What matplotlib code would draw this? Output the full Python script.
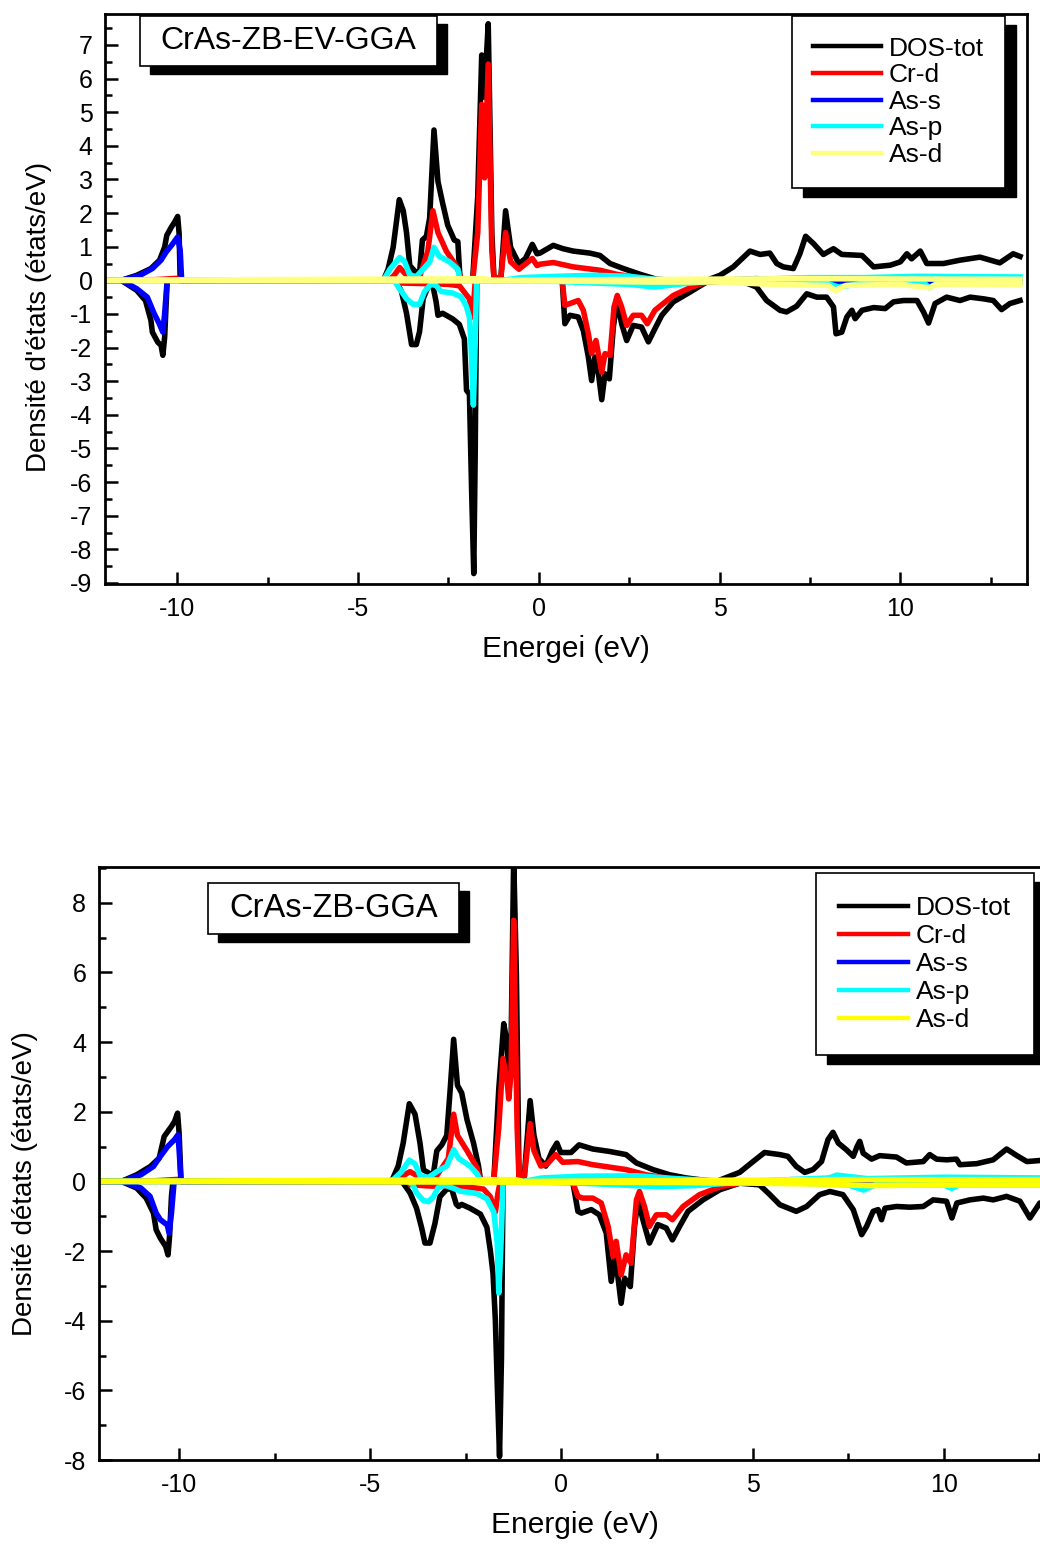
import numpy as np
import matplotlib
matplotlib.use('Agg')
import matplotlib.pyplot as plt
from matplotlib.patches import Rectangle
from matplotlib.lines import Line2D
from matplotlib.ticker import MultipleLocator
from matplotlib.transforms import IdentityTransform

plt.rcParams['font.family'] = ['Liberation Sans', 'DejaVu Sans']
plt.rcParams['axes.unicode_minus'] = False

# ---------------- data : (energy eV, DOS states/eV) ----------------
labels = ['DOS-tot', 'Cr-d', 'As-s', 'As-p', 'As-d']

# ---- top panel : CrAs-ZB-EV-GGA ----
top_tot_up = [(-12.0, 0), (-11.55, 0), (-11.12, 0.15), (-10.73, 0.35), (-10.49, 0.60), (-10.35, 0.99),
              (-10.29, 1.34), (-10.16, 1.59), (-10.07, 1.74), (-9.99, 1.90), (-9.95, 1.39), (-9.92, 0),
              (-4.30, 0), (-4.17, 0.33), (-4.03, 0.98), (-3.86, 2.40), (-3.75, 2.07), (-3.66, 1.42),
              (-3.57, 0.44), (-3.43, 0.27), (-3.30, 0.22), (-3.22, 1.20), (-3.11, 1.31), (-3.02, 1.85),
              (-2.90, 4.47), (-2.79, 2.94), (-2.66, 2.29), (-2.52, 1.64), (-2.34, 1.20), (-2.24, 1.15),
              (-2.18, 0.05), (-1.83, 0.02), (-1.69, 2.50), (-1.58, 6.70), (-1.51, 5.45), (-1.40, 7.63),
              (-1.30, 1.40), (-1.24, 0.05), (-1.05, 0.05), (-0.92, 2.07), (-0.78, 0.98), (-0.55, 0.49),
              (-0.37, 0.65), (-0.18, 1.07), (-0.05, 0.79), (0.03, 0.81), (0.40, 1.04), (0.67, 0.94),
              (0.95, 0.87), (1.41, 0.81), (1.69, 0.74), (1.97, 0.50), (2.34, 0.35), (2.80, 0.18),
              (3.26, 0.03), (3.72, 0), (4.64, 0), (5.01, 0.15), (5.38, 0.40), (5.84, 0.87), (6.12, 0.77),
              (6.39, 0.81), (6.58, 0.50), (6.76, 0.40), (7.04, 0.35), (7.22, 0.79), (7.38, 1.31),
              (7.60, 1.09), (7.87, 0.77), (8.15, 0.94), (8.38, 0.77), (8.94, 0.74), (9.26, 0.40),
              (9.72, 0.45), (10.0, 0.55), (10.18, 0.79), (10.31, 0.64), (10.55, 0.87), (10.73, 0.50),
              (11.19, 0.50), (11.65, 0.60), (12.20, 0.69), (12.75, 0.52), (13.12, 0.79), (13.31, 0.71)]
top_tot_dn = [(-12.0, 0), (-11.55, 0), (-11.12, -0.30), (-10.88, -0.60), (-10.73, -1.19), (-10.69, -1.54),
              (-10.54, -1.84), (-10.45, -1.93), (-10.40, -2.23), (-10.35, -1.69), (-10.28, 0),
              (-4.00, 0), (-3.94, -0.05), (-3.80, -0.33), (-3.66, -0.98), (-3.52, -1.91), (-3.39, -1.91),
              (-3.30, -1.53), (-3.20, -0.55), (-3.07, -0.20), (-2.93, -0.16), (-2.84, -0.65), (-2.79, -1.04),
              (-2.66, -0.98), (-2.38, -1.15), (-2.20, -1.31), (-2.06, -1.74), (-2.00, -3.27), (-1.92, -3.38),
              (-1.86, -6.22), (-1.80, -8.72), (-1.76, -5.13), (-1.72, -0.11), (-1.68, 0), (0.60, 0),
              (0.65, -0.05), (0.72, -1.29), (0.86, -1.04), (1.09, -1.09), (1.23, -1.49), (1.37, -2.28),
              (1.46, -2.98), (1.55, -2.28), (1.65, -2.78), (1.74, -3.55), (1.83, -2.78), (1.95, -2.93),
              (2.06, -1.39), (2.17, -0.60), (2.29, -1.29), (2.43, -1.79), (2.61, -1.34), (2.84, -1.39),
              (3.03, -1.83), (3.21, -1.44), (3.40, -1.04), (3.72, -0.64), (4.18, -0.35), (4.64, -0.05),
              (5.56, 0), (6.02, -0.20), (6.30, -0.60), (6.67, -0.89), (6.85, -0.94), (7.13, -0.77),
              (7.41, -0.40), (7.69, -0.50), (7.96, -0.50), (8.15, -0.79), (8.22, -1.59), (8.38, -1.54),
              (8.52, -1.09), (8.66, -0.89), (8.75, -1.14), (8.94, -0.89), (9.26, -0.81), (9.58, -0.84),
              (9.81, -0.64), (10.09, -0.60), (10.46, -0.60), (10.64, -0.94), (10.78, -1.27), (10.96, -0.69),
              (11.28, -0.50), (11.65, -0.60), (11.93, -0.50), (12.30, -0.55), (12.57, -0.60), (12.80, -0.87),
              (13.03, -0.69), (13.31, -0.60)]
top_crd_up = [(-12.0, 0), (-10.6, 0.02), (-10.0, 0.06), (-9.92, 0), (-4.15, 0), (-4.00, 0.15), (-3.85, 0.38),
              (-3.70, 0.20), (-3.57, 0.10), (-3.30, 0.10), (-3.07, 0.87), (-2.93, 2.07), (-2.79, 1.42),
              (-2.56, 0.87), (-2.29, 0.44), (-2.20, 0.22), (-2.15, 0.02), (-1.83, 0), (-1.69, 1.42),
              (-1.58, 5.23), (-1.50, 3.05), (-1.40, 6.43), (-1.30, 0.87), (-1.24, 0.05), (-1.05, 0.10),
              (-0.92, 1.42), (-0.78, 0.55), (-0.55, 0.33), (-0.18, 0.65), (-0.05, 0.44), (0.03, 0.48),
              (0.40, 0.53), (0.95, 0.40), (1.69, 0.30), (2.15, 0.18), (2.80, 0.07), (3.26, 0), (13.31, 0)]
top_crd_dn = [(-12.0, 0), (-4.00, 0), (-3.80, -0.08), (-3.00, -0.10), (-2.50, -0.12), (-2.20, -0.16),
              (-1.92, -0.55), (-1.83, -1.09), (-1.76, -0.05), (-1.70, 0), (0.60, 0), (0.65, -0.05),
              (0.72, -0.74), (0.86, -0.69), (1.09, -0.60), (1.23, -0.89), (1.37, -1.59), (1.46, -2.18),
              (1.58, -1.79), (1.74, -2.73), (1.83, -2.18), (1.97, -2.23), (2.08, -0.79), (2.17, -0.45),
              (2.29, -0.79), (2.43, -1.34), (2.61, -1.04), (2.84, -1.04), (3.00, -1.29), (3.21, -0.89),
              (3.72, -0.45), (4.18, -0.22), (4.64, -0.05), (5.00, 0), (13.31, 0)]
top_ass_up = [(-12.0, 0), (-11.55, 0), (-11.03, 0.15), (-10.69, 0.35), (-10.45, 0.60), (-10.31, 0.84),
              (-10.16, 1.04), (-9.99, 1.29), (-9.92, 0.89), (-9.88, 0), (5.0, 0), (6.0, 0.05), (7.0, 0.02),
              (13.31, 0.02)]
top_ass_dn = [(-12.0, 0), (-11.55, 0), (-11.12, -0.25), (-10.83, -0.50), (-10.64, -0.99), (-10.50, -1.29),
              (-10.40, -1.54), (-10.35, -0.99), (-10.28, 0), (5.0, 0), (8.0, -0.05), (9.0, -0.08),
              (10.5, -0.10), (11.0, -0.06), (13.31, -0.05)]
top_asp_up = [(-12.0, 0), (-4.30, 0), (-4.12, 0.33), (-3.85, 0.68), (-3.71, 0.55), (-3.57, 0.16),
              (-3.39, 0.11), (-3.20, 0.33), (-3.02, 0.55), (-2.90, 0.98), (-2.75, 0.71), (-2.47, 0.55),
              (-2.24, 0.33), (-2.18, 0), (-1.0, 0), (-0.5, 0.08), (0.5, 0.12), (1.5, 0.15), (2.5, 0.12),
              (3.3, 0.02), (5.0, 0), (7.5, 0.08), (9.0, 0.08), (10.5, 0.12), (13.31, 0.10)]
top_asp_dn = [(-12.0, 0), (-4.00, 0), (-3.94, -0.11), (-3.66, -0.55), (-3.48, -0.71), (-3.30, -0.71),
              (-3.16, -0.33), (-2.98, -0.11), (-2.84, -0.16), (-2.70, -0.33), (-2.38, -0.38), (-2.15, -0.49),
              (-2.01, -0.76), (-1.92, -1.09), (-1.88, -1.85), (-1.81, -3.71), (-1.76, -1.85), (-1.72, -0.05),
              (-1.68, 0), (0.5, -0.03), (1.5, -0.08), (2.5, -0.12), (3.2, -0.20), (4.0, -0.10), (5.0, 0),
              (8.0, -0.10), (8.3, -0.20), (9.0, -0.08), (10.7, -0.12), (10.8, -0.22), (11.0, -0.10),
              (13.31, -0.08)]
top_asd_up = [(-12.0, 0), (-1.5, 0.05), (-1.3, 0), (7.3, 0.05), (13.31, 0.03)]
top_asd_dn = [(-12.0, 0), (0.5, -0.02), (3.0, -0.05), (5.0, -0.05), (6.5, -0.12), (8.0, -0.15),
              (8.2, -0.30), (8.5, -0.15), (10.0, -0.12), (10.8, -0.22), (11.0, -0.12), (13.31, -0.12)]

# ---- bottom panel : CrAs-ZB-GGA ----
bot_tot_up = [(-12.1, 0), (-11.51, 0), (-11.11, 0.19), (-10.75, 0.43), (-10.52, 0.67), (-10.39, 1.29),
              (-10.20, 1.58), (-10.12, 1.72), (-10.04, 1.96), (-10.00, 1.39), (-9.95, 0), (-4.45, 0),
              (-4.40, 0.11), (-4.27, 0.44), (-4.14, 1.10), (-3.98, 2.23), (-3.83, 1.93), (-3.70, 1.10),
              (-3.61, 0.33), (-3.44, 0.22), (-3.35, 0.22), (-3.26, 0.88), (-3.13, 1.05), (-3.00, 1.32),
              (-2.91, 2.65), (-2.82, 4.08), (-2.72, 2.76), (-2.61, 2.54), (-2.47, 1.77), (-2.30, 1.10),
              (-2.17, 0.44), (-2.12, 0.05), (-1.77, 0.02), (-1.64, 2.65), (-1.51, 4.53), (-1.42, 3.97),
              (-1.38, 2.65), (-1.32, 3.75), (-1.25, 9.30), (-1.18, 5.96), (-1.11, 0.05), (-0.98, 0.05),
              (-0.82, 2.32), (-0.72, 1.32), (-0.59, 0.66), (-0.41, 0.44), (-0.24, 0.88), (-0.12, 1.10),
              (-0.02, 0.83), (0.25, 0.83), (0.46, 1.05), (0.82, 0.93), (1.26, 0.86), (1.69, 0.77),
              (1.96, 0.53), (2.39, 0.34), (2.83, 0.19), (3.26, 0.10), (3.61, 0.05), (4.05, 0), (4.66, 0.26),
              (5.01, 0.57), (5.31, 0.83), (5.71, 0.77), (5.92, 0.72), (6.14, 0.43), (6.36, 0.26),
              (6.58, 0.34), (6.80, 0.57), (6.97, 1.20), (7.10, 1.41), (7.24, 1.10), (7.45, 0.91),
              (7.63, 0.72), (7.73, 1.00), (7.80, 1.15), (7.89, 0.81), (8.11, 0.64), (8.32, 0.74),
              (8.76, 0.70), (9.02, 0.53), (9.46, 0.57), (9.63, 0.77), (9.81, 0.64), (10.07, 0.62),
              (10.33, 0.64), (10.42, 0.48), (10.86, 0.51), (11.29, 0.62), (11.64, 0.93), (11.91, 0.74),
              (12.17, 0.57), (12.51, 0.60), (13.0, 0.60)]
bot_tot_dn = [(-12.1, 0), (-11.51, 0), (-11.11, -0.19), (-10.86, -0.48), (-10.67, -0.91), (-10.60, -1.39),
              (-10.49, -1.63), (-10.35, -1.87), (-10.29, -2.11), (-10.25, -1.58), (-10.20, -0.43),
              (-10.16, 0), (-4.20, 0), (-4.14, -0.05), (-3.96, -0.33), (-3.79, -0.77), (-3.66, -1.32),
              (-3.57, -1.77), (-3.44, -1.77), (-3.31, -1.21), (-3.18, -0.44), (-3.00, -0.22), (-2.87, -0.22),
              (-2.75, -0.66), (-2.69, -0.72), (-2.61, -0.66), (-2.39, -0.77), (-2.12, -0.94), (-1.95, -1.32),
              (-1.86, -1.99), (-1.79, -2.65), (-1.73, -3.97), (-1.67, -6.18), (-1.62, -7.90), (-1.57, -5.08),
              (-1.53, -0.11), (-1.50, 0), (0.20, 0), (0.30, -0.05), (0.43, -0.86), (0.52, -0.91),
              (0.78, -0.81), (0.99, -0.96), (1.17, -1.48), (1.30, -2.87), (1.41, -2.15), (1.56, -3.50),
              (1.65, -2.78), (1.80, -3.02), (1.91, -1.29), (2.00, -0.53), (2.13, -1.10), (2.30, -1.77),
              (2.52, -1.24), (2.74, -1.34), (2.90, -1.68), (3.09, -1.29), (3.31, -0.86), (3.70, -0.53),
              (4.14, -0.24), (4.66, -0.05), (5.18, -0.10), (5.45, -0.38), (5.71, -0.67), (6.14, -0.86),
              (6.41, -0.72), (6.75, -0.38), (7.02, -0.29), (7.36, -0.38), (7.63, -0.81), (7.85, -1.53),
              (7.98, -1.29), (8.15, -0.86), (8.28, -0.81), (8.37, -1.10), (8.46, -0.77), (8.76, -0.72),
              (9.11, -0.74), (9.46, -0.72), (9.72, -0.53), (10.07, -0.57), (10.21, -1.05), (10.34, -0.62),
              (10.68, -0.53), (11.03, -0.48), (11.29, -0.53), (11.64, -0.43), (11.99, -0.57), (12.25, -1.05),
              (12.51, -0.62), (13.0, -0.60)]
bot_crd_up = [(-12.1, 0), (-10.6, 0.02), (-10.0, 0.06), (-9.95, 0), (-4.30, 0), (-4.23, 0.11), (-3.96, 0.28),
              (-3.79, 0.17), (-3.61, 0.11), (-3.26, 0.17), (-2.96, 0.66), (-2.82, 1.93), (-2.72, 1.32),
              (-2.47, 0.88), (-2.21, 0.39), (-2.12, 0.05), (-1.77, 0.05), (-1.64, 1.55), (-1.53, 3.53),
              (-1.42, 2.87), (-1.38, 2.37), (-1.32, 3.09), (-1.25, 7.50), (-1.16, 1.55), (-1.11, 0.05),
              (-0.98, 0.05), (-0.82, 1.66), (-0.72, 0.88), (-0.54, 0.44), (-0.37, 0.50), (-0.15, 0.77),
              (0.03, 0.55), (0.43, 0.57), (0.82, 0.48), (1.69, 0.34), (2.21, 0.19), (3.00, 0.05),
              (3.44, 0), (13.0, 0)]
bot_crd_dn = [(-12.1, 0), (-4.00, 0), (-3.96, -0.09), (-3.50, -0.13), (-2.39, -0.17), (-2.04, -0.22),
              (-1.86, -0.44), (-1.73, -0.88), (-1.66, -0.33), (-1.60, 0), (0.20, 0), (0.30, -0.05),
              (0.43, -0.43), (0.56, -0.48), (0.82, -0.48), (1.04, -0.62), (1.22, -1.29), (1.35, -2.15),
              (1.43, -1.72), (1.56, -2.68), (1.69, -2.11), (1.82, -2.35), (1.96, -0.53), (2.04, -0.29),
              (2.17, -0.72), (2.30, -1.29), (2.48, -0.96), (2.74, -0.96), (2.90, -1.10), (3.18, -0.72),
              (3.61, -0.38), (4.14, -0.16), (4.66, -0.05), (5.00, 0), (13.0, 0)]
bot_ass_up = [(-12.1, 0), (-11.51, 0), (-11.00, 0.19), (-10.67, 0.43), (-10.49, 0.72), (-10.30, 1.00),
              (-10.12, 1.20), (-10.03, 1.34), (-10.00, 0.91), (-9.95, 0), (5.0, 0), (6.0, 0.05), (13.0, 0.03)]
bot_ass_dn = [(-12.1, 0), (-11.51, 0), (-11.00, -0.19), (-10.76, -0.43), (-10.60, -0.91), (-10.49, -1.10),
              (-10.31, -1.25), (-10.26, -1.49), (-10.20, -0.91), (-10.13, 0), (5.0, 0), (7.5, -0.05),
              (8.0, -0.10), (10.0, -0.08), (13.0, -0.08)]
bot_asp_up = [(-12.1, 0), (-4.45, 0), (-4.18, 0.28), (-3.98, 0.61), (-3.83, 0.50), (-3.70, 0.17),
              (-3.48, 0.11), (-3.26, 0.28), (-3.00, 0.44), (-2.82, 0.91), (-2.69, 0.66), (-2.39, 0.44),
              (-2.21, 0.22), (-2.12, 0.02), (-1.0, 0), (-0.5, 0.10), (0.5, 0.15), (2.0, 0.16), (3.0, 0.08),
              (4.0, 0.02), (5.0, 0), (7.0, 0.10), (7.2, 0.18), (8.0, 0.08), (10.0, 0.12), (12.5, 0.10),
              (13.0, 0.10)]
bot_asp_dn = [(-12.1, 0), (-4.00, 0), (-3.88, -0.11), (-3.79, -0.33), (-3.61, -0.55), (-3.48, -0.58),
              (-3.35, -0.44), (-3.22, -0.17), (-3.04, -0.11), (-2.82, -0.20), (-2.65, -0.28), (-2.21, -0.35),
              (-1.95, -0.50), (-1.77, -0.88), (-1.68, -1.77), (-1.64, -3.20), (-1.58, -1.77), (-1.53, -0.05),
              (-1.50, 0), (0.5, -0.05), (1.5, -0.10), (2.5, -0.15), (3.5, -0.12), (5.0, 0), (7.5, -0.10),
              (7.9, -0.25), (8.2, -0.10), (10.0, -0.10), (10.2, -0.20), (10.4, -0.10), (12.3, -0.10),
              (13.0, -0.10)]
bot_asd_up = [(-12.1, 0), (-1.4, 0.05), (-1.2, 0.05), (-1.0, 0), (7.0, 0.05), (13.0, 0.05)]
bot_asd_dn = [(-12.1, 0), (3.0, -0.03), (5.0, -0.05), (7.0, -0.08), (8.0, -0.12), (10.0, -0.10), (13.0, -0.10)]

top_curves = [(top_tot_up, top_tot_dn), (top_crd_up, top_crd_dn), (top_ass_up, top_ass_dn),
              (top_asp_up, top_asp_dn), (top_asd_up, top_asd_dn)]
bot_curves = [(bot_tot_up, bot_tot_dn), (bot_crd_up, bot_crd_dn), (bot_ass_up, bot_ass_dn),
              (bot_asp_up, bot_asp_dn), (bot_asd_up, bot_asd_dn)]
top_colors = ['#000000', '#ff0000', '#0000ff', '#00ffff', '#ffff80']
bot_colors = ['#000000', '#ff0000', '#0000ff', '#00ffff', '#ffff00']

# ---------------- figure ----------------
W, H = 1040, 1544
fig = plt.figure(figsize=(W / 100, H / 100), dpi=100)


def px_axes(x0, y0, x1, y1):
    return fig.add_axes([x0 / W, 1 - y1 / H, (x1 - x0) / W, (y1 - y0) / H])


def fig_rect(ax, x0, y0, x1, y1, z, **kw):
    r = Rectangle((x0 / W, 1 - y1 / H), (x1 - x0) / W, (y1 - y0) / H,
                  transform=fig.transFigure, clip_on=False, zorder=z, **kw)
    ax.add_patch(r)


def panel(ax, curves, colors, xlim, ylim, ymaj, ymin_, ylab, xlab, ylab_xy, xlab_xy,
          title, tsize, tbox, leg_xy, leg_space, leg_pad):
    for (up, dn), c in zip(curves, colors):
        for s in (up, dn):
            a = np.array(s, float)
            ax.plot(a[:, 0], a[:, 1], color=c, lw=4.0, solid_joinstyle='round')
    ax.set_xlim(*xlim)
    ax.set_ylim(*ylim)
    ax.xaxis.set_major_locator(MultipleLocator(5))
    ax.xaxis.set_minor_locator(MultipleLocator(2.5))
    ax.yaxis.set_major_locator(MultipleLocator(ymaj))
    ax.yaxis.set_minor_locator(MultipleLocator(ymin_))
    ax.tick_params(which='both', direction='in', labelsize=18, width=1.8, top=False, right=False)
    ax.tick_params(which='major', length=9, pad=9)
    ax.tick_params(which='minor', length=5)
    for sp in ax.spines.values():
        sp.set_linewidth(2)
    ax.set_xlabel(xlab, fontsize=21.5)
    ax.set_ylabel(ylab, fontsize=20)
    ax.yaxis.set_label_coords(*ylab_xy)
    ax.xaxis.set_label_coords(*xlab_xy)
    # title box with shadow
    bx0, by0, bx1, by1 = tbox
    fig_rect(ax, bx0 + 10, by0 + 8, bx1 + 10, by1 + 8, 6, facecolor='black', edgecolor='black')
    fig_rect(ax, bx0, by0, bx1, by1, 7, facecolor='white', edgecolor='black', linewidth=1.2)
    ax.text((bx0 + bx1) / 2 / W, 1 - (by0 + by1) / 2 / H, title, transform=fig.transFigure,
            ha='center', va='center', fontsize=tsize, zorder=8)
    handles = [Line2D([], [], color=c, lw=3.2) for c in colors]
    leg = ax.legend(handles, labels, loc='upper left',
                    bbox_to_anchor=(leg_xy[0] / W, 1 - leg_xy[1] / H), bbox_transform=fig.transFigure,
                    borderaxespad=0, fontsize=19, frameon=True, fancybox=False, edgecolor='black',
                    framealpha=1, handlelength=2.6, handletextpad=0.3, labelspacing=leg_space,
                    borderpad=leg_pad)
    leg.get_frame().set_linewidth(1.2)
    leg.set_zorder(10)
    return leg


ax1 = px_axes(105, 14, 1026.9, 584)
leg1 = panel(ax1, top_curves, top_colors, (-12.0, 13.5), (-9.03, 7.92), 1, 0.5,
             "Densité d'états (états/eV)", 'Energei (eV)', (-0.058, 0.468), (0.5, -0.09),
             'CrAs-ZB-EV-GGA', 23, (140, 16, 437, 66), (792, 16), 0.1, 0.78)

ax2 = px_axes(98.8, 867.3, 1077.7, 1460)
leg2 = panel(ax2, bot_curves, bot_colors, (-12.1, 13.5), (-8.0, 9.02), 2, 1,
             'Densité détats (états/eV)', 'Energie (eV)', (-0.062, 0.467), (0.486, -0.086),
             'CrAs-ZB-GGA', 23.5, (208, 883, 459, 934), (816, 873), 0.15, 0.88)

fig.canvas.draw()
for ax, leg in ((ax1, leg1), (ax2, leg2)):
    bb = leg.get_window_extent()
    sh = Rectangle((bb.x0 + 11, bb.y0 - 9), bb.width, bb.height, transform=IdentityTransform(),
                   facecolor='black', edgecolor='black', zorder=9, clip_on=False)
    ax.add_patch(sh)

fig.savefig('out.png', dpi=100)
